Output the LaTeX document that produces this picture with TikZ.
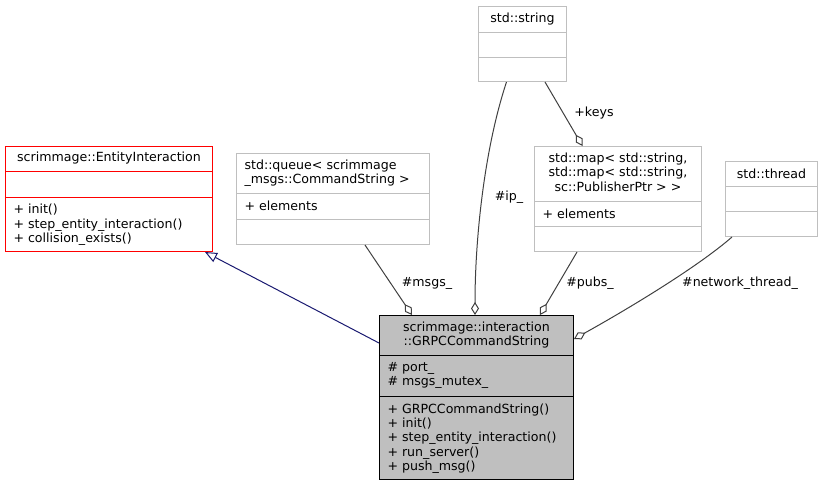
\documentclass[tikz,border=0pt]{standalone}
\usepackage{fontspec}
\setmainfont{DejaVu Sans}
\usetikzlibrary{arrows.meta,positioning}
\definecolor{boxgray}{HTML}{BFBFBF}
\definecolor{edgegray}{HTML}{404040}
\definecolor{inhblue}{HTML}{191970}
\tikzset{
	cls/.style={draw=boxgray, fill=white, anchor=north west, inner sep=0pt},
	ttl/.style={align=center, inner sep=0pt},
	mem/.style={align=left, anchor=west, inner sep=0pt},
	agg/.style={draw=edgegray, -{Diamond[open, length=13pt, width=8pt]}},
	inh/.style={draw=inhblue, -{Triangle[open, length=12pt, width=10pt]}},
	lbl/.style={inner sep=0pt}
}
\begin{document}
\begin{tikzpicture}[x=1pt, y=-1pt, line width=1pt, font=\fontsize{12.6}{14.4}\selectfont]
	\useasboundingbox (0,0) rectangle (823,485);
	%Lớp cha.
	\node[cls, draw=red, minimum width=207pt, minimum height=105pt] (ei) at (5,146) {};
	\draw[red] ([yshift=-25pt]ei.north west)--([yshift=-25pt]ei.north east) ([yshift=-51pt]ei.north west)--([yshift=-51pt]ei.north east);
	\node[ttl] (eiT) at ([yshift=-12.5pt]ei.north) {scrimmage::EntityInteraction};
	\node[mem] (eiM) at ([xshift=8pt,yshift=27pt]ei.south west) {+ init()\\+ step\_entity\_interaction()\\+ collision\_exists()};
	%Hàng đợi.
	\node[cls, minimum width=193pt, minimum height=91pt] (queue) at (236,153) {};
	\draw[boxgray] ([yshift=-40pt]queue.north west)--([yshift=-40pt]queue.north east) ([yshift=-66pt]queue.north west)--([yshift=-66pt]queue.north east);
	\node[mem] (queueT) at ([xshift=8pt,yshift=-20pt]queue.north west) {std::queue< scrimmage\\\_msgs::CommandString >};
	\node[mem] (queueA) at ([xshift=8pt,yshift=-53pt]queue.north west) {+ elements};
	%Chuỗi.
	\node[cls, minimum width=88pt, minimum height=75pt] (str) at (478,6) {};
	\draw[boxgray] ([yshift=-26pt]str.north west)--([yshift=-26pt]str.north east) ([yshift=-51pt]str.north west)--([yshift=-51pt]str.north east);
	\node[ttl] (strT) at ([yshift=-13pt]str.north) {std::string};
	%Bản đồ.
	\node[cls, minimum width=167pt, minimum height=105pt] (map) at (534,146) {};
	\draw[boxgray] ([yshift=-55pt]map.north west)--([yshift=-55pt]map.north east) ([yshift=-80pt]map.north west)--([yshift=-80pt]map.north east);
	\node[ttl] (mapT) at ([yshift=-26pt]map.north) {std::map< std::string,\\ std::map< std::string,\\sc::PublisherPtr > >};
	\node[mem] (mapA) at ([xshift=8pt,yshift=-67.5pt]map.north west) {+ elements};
	%Luồng.
	\node[cls, minimum width=92pt, minimum height=75pt] (thr) at (725,161) {};
	\draw[boxgray] ([yshift=-25pt]thr.north west)--([yshift=-25pt]thr.north east) ([yshift=-50pt]thr.north west)--([yshift=-50pt]thr.north east);
	\node[ttl] (thrT) at ([yshift=-12.5pt]thr.north) {std::thread};
	%Lớp chính.
	\node[cls, draw=black, fill=boxgray, minimum width=194pt, minimum height=164pt] (grpc) at (379,315) {};
	\draw ([yshift=-40pt]grpc.north west)--([yshift=-40pt]grpc.north east) ([yshift=-81pt]grpc.north west)--([yshift=-81pt]grpc.north east);
	\node[ttl] (grpcT) at ([yshift=-20pt]grpc.north) {scrimmage::interaction\\::GRPCCommandString};
	\node[mem] (grpcA) at ([xshift=8pt,yshift=-60.5pt]grpc.north west) {\# port\_\\\# msgs\_mutex\_};
	\node[mem] (grpcM) at ([xshift=8pt,yshift=41.5pt]grpc.south west) {+ GRPCCommandString()\\+ init()\\+ step\_entity\_interaction()\\+ run\_server()\\+ push\_msg()};
	%Các cạnh.
	\draw[inh] ([yshift=-28pt]grpc.north west)--([xshift=200pt]ei.south west);
	\draw[agg] ([xshift=129pt]queue.south west)--([xshift=33pt]grpc.north west);
	\draw[agg] ([xshift=28.5pt]str.south west) .. controls (484,150) and (475,240) .. ([xshift=96pt]grpc.north west);
	\draw[agg] ([xshift=67pt]str.south west)--([xshift=48.5pt]map.north west);
	\draw[agg] ([xshift=43pt]map.south west)--([xshift=161pt]grpc.north west);
	\draw[agg] ([xshift=7pt]thr.south west) .. controls (700,265) and (635,305) .. ([yshift=-24pt]grpc.north east);
	%Nhãn.
	\node[lbl] (lMsgs) at (427,283) {\#msgs\_};
	\node[lbl] (lIp) at (509,197) {\#ip\_};
	\node[lbl] (lKeys) at (594,113) {+keys};
	\node[lbl] (lPubs) at (590,283) {\#pubs\_};
	\node[lbl] (lThr) at (740,283) {\#network\_thread\_};
\end{tikzpicture}
\end{document}
